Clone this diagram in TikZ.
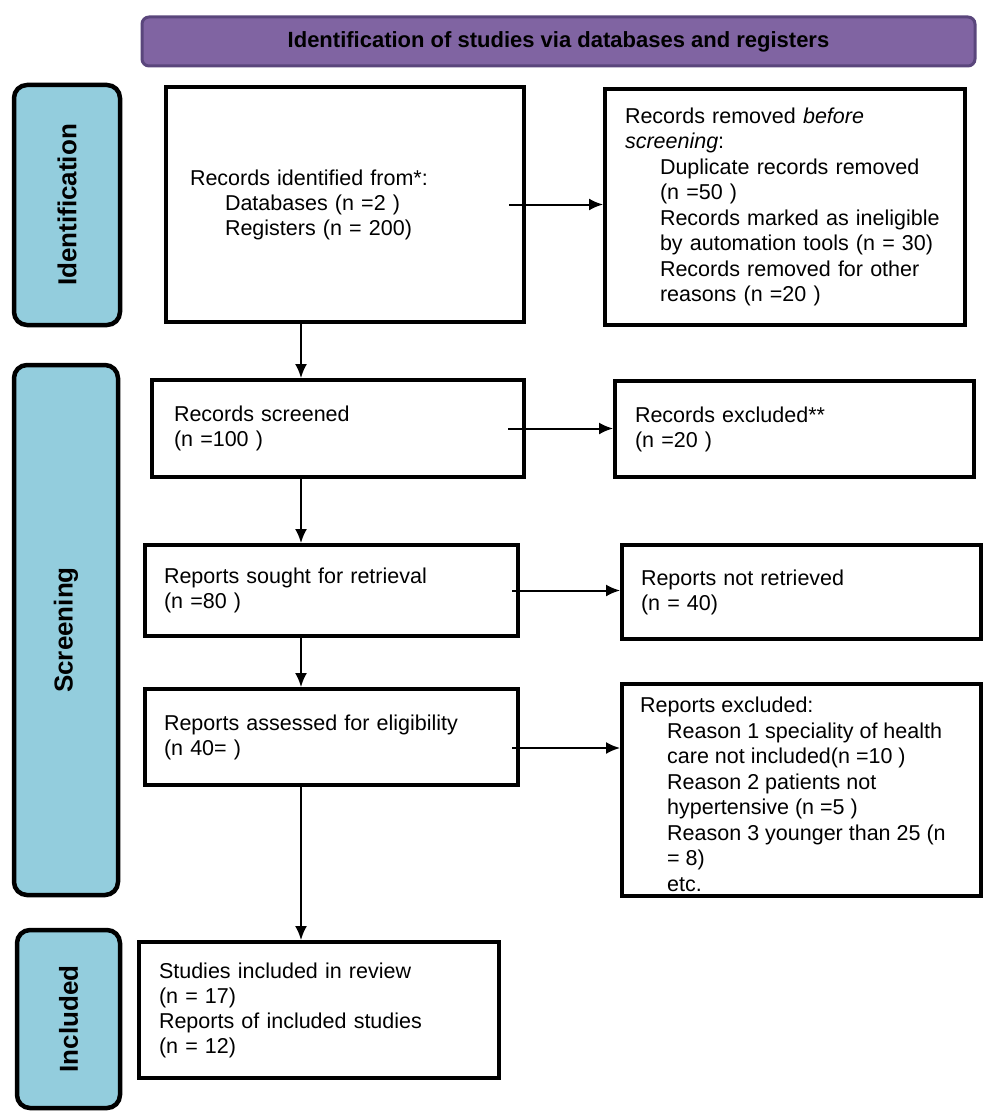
\documentclass[tikz,border=0pt]{standalone}
\usepackage{fontspec}
\setmainfont{Liberation Sans}
\usetikzlibrary{arrows.meta,positioning,calc}

\definecolor{stageblue}{RGB}{147,205,221}
\definecolor{headpurple}{RGB}{128,100,162}
\definecolor{headedge}{RGB}{90,70,124}

\tikzset{
  head/.style={draw=headedge, line width=3pt, fill=headpurple, rounded corners=7pt,
    font=\bfseries\fontsize{22}{26}\selectfont},
  stage/.style={draw, line width=4.5pt, rounded corners=13pt, fill=stageblue, rotate=90,
    font=\bfseries\fontsize{26}{30}\selectfont},
  flowbox/.style={draw, line width=4pt, anchor=north west, align=left,
    font=\fontsize{21.5}{25}\selectfont},
  tallbox/.style={flowbox, font=\fontsize{21.5}{25.5}\selectfont},
  flow/.style={-{Latex[length=14pt,width=12pt]}, line width=2pt},
}
\newcommand{\ind}[1][35pt]{\hspace*{#1}}

\begin{document}
\begin{tikzpicture}[x=1pt,y=-1pt]
\useasboundingbox (0,0) rectangle (986,1118);

% banner
\node[head, minimum width=833pt, minimum height=49pt] (head) at (558.5,41.5)
  {Identification of studies via databases and registers};

% stages on the left
\node[stage, minimum width=240pt, minimum height=106pt] (idstage)  at (67,205)    {Identification};
\node[stage, minimum width=530pt, minimum height=104pt] (scrstage) at (66,630)    {Screening};
\node[stage, minimum width=178pt, minimum height=103pt] (incstage) at (68.5,1019) {Included};

% main column
\node[flowbox, minimum width=358pt, minimum height=235pt, inner xsep=24pt, text width=310pt]
  (identified) at (164,85)
  {Records identified from*:\\\ind Databases (n =2 )\\\ind Registers (n = 200)};
\node[flowbox, minimum width=372pt, minimum height=97pt, inner xsep=22pt, text width=328pt]
  (screened) at (150,378) {Records screened\\(n =100 )};
\node[flowbox, minimum width=373pt, minimum height=91pt, inner xsep=19pt, text width=335pt]
  (sought) at (143,543) {Reports sought for retrieval\\(n =80 )};
\node[flowbox, minimum width=373pt, minimum height=96pt, inner xsep=19pt, text width=335pt]
  (assessed) at (143,687) {Reports assessed for eligibility\\(n 40= )};
\node[flowbox, minimum width=360pt, minimum height=136pt, inner xsep=20pt, text width=320pt]
  (included) at (137,940)
  {Studies included in review\\(n = 17)\\Reports of included studies\\(n = 12)};

% right column
\node[tallbox, minimum width=360pt, minimum height=236pt, inner xsep=20pt, text width=320pt]
  (removed) at (603,87)
  {Records removed \textit{before}\\\textit{screening}:\\\ind Duplicate records removed\\\ind (n =50 )\\
   \ind Records marked as ineligible\\\ind by automation tools (n = 30)\\\ind Records removed for other\\\ind reasons (n =20 )};
\node[flowbox, minimum width=359pt, minimum height=96pt, inner xsep=20pt, text width=319pt]
  (excluded) at (613,379) {Records excluded**\\(n =20 )};
\node[flowbox, minimum width=359pt, minimum height=94pt, inner xsep=19pt, text width=321pt]
  (notret) at (620,543) {Reports not retrieved\\(n = 40)};
\node[flowbox, minimum width=359pt, minimum height=212pt] (rexcl) at (620,682) {};
\begin{scope}
  \clip (rexcl.north west) rectangle ([yshift=7pt]rexcl.south east);
  \node[anchor=north west, align=left, inner sep=0pt, font=\fontsize{21.5}{25.5}\selectfont]
    (rexcltext) at (640,697)
    {Reports excluded:\\\ind[27pt]Reason 1 speciality of health\\\ind[27pt]care not included(n =10 )\\
     \ind[27pt]Reason 2 patients not\\\ind[27pt]hypertensive (n =5 )\\\ind[27pt]Reason 3 younger than 25 (n\\
     \ind[27pt]= 8)\\\ind[27pt]etc.};
\end{scope}

% connectors
\coordinate (spine) at (301,0);
\draw[flow] (identified.south -| spine) -- (screened.north -| spine);
\draw[flow] (screened.south -| spine) -- (sought.north -| spine);
\draw[flow] (sought.south -| spine) -- (assessed.north -| spine);
\draw[flow] (assessed.south -| spine) -- (included.north -| spine);

\draw[flow] ([xshift=-17pt]identified.east) -- (identified.east -| removed.west);
\draw[flow] ([xshift=-18pt]screened.east) -- (screened.east -| excluded.west);
\draw[flow] ([xshift=-8pt]sought.east) -- (sought.east -| notret.west);
\draw[flow] ([xshift=-8pt,yshift=-11pt]assessed.east) coordinate (tap) -- (tap -| rexcl.west);
\end{tikzpicture}
\end{document}
